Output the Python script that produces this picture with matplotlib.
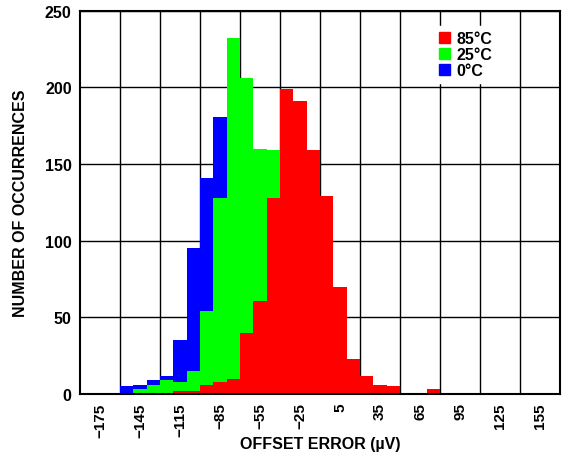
import numpy as np
import matplotlib.pyplot as plt
from matplotlib.patches import Patch

# bin left edges (uV), 10 uV wide
bin_left = np.arange(-160, 80, 10)

# counts per bin (hidden parts left at zero)
counts_0c = [5, 6, 9, 12, 35, 95, 141, 181, 0, 0, 0, 0,
             0, 0, 0, 0, 0, 0, 0, 0, 0, 0, 0, 0]
counts_25c = [0, 3, 6, 9, 8, 15, 54, 128, 232, 206, 160, 159,
              0, 0, 0, 0, 0, 0, 0, 0, 0, 0, 0, 0]
counts_85c = [0, 0, 0, 0, 2, 2, 6, 8, 10, 40, 61, 128,
              199, 191, 159, 129, 70, 23, 12, 6, 5, 0, 0, 3]

xticks = np.arange(-175, 156, 30)
xtick_labels = ['\u2212175', '\u2212145', '\u2212115', '\u221285', '\u221255',
                '\u221225', '5', '35', '65', '95', '125', '155']

plt.rcParams.update({
    "font.family": "Liberation Sans",
    "font.weight": "bold",
    "font.size": 11.5,
})

fig = plt.figure(figsize=(5.72, 4.6), dpi=100)
ax = fig.add_axes([0.14, 0.1413, 0.839, 0.833])

ax.bar(bin_left, counts_0c, width=10, align='edge', color='#0000FF', linewidth=0, zorder=2)
ax.bar(bin_left, counts_25c, width=10, align='edge', color='#00FF00', linewidth=0, zorder=3)
ax.bar(bin_left, counts_85c, width=10, align='edge', color='#FF0000', linewidth=0, zorder=4)

ax.set_xlim(-190, 170)
ax.set_ylim(0, 250)

# grid lines sit on cell edges, labels in the middle of the cells
ax.set_xticks(np.arange(-160, 141, 30), minor=True)
ax.set_xticks(xticks)
ax.set_xticklabels(xtick_labels, rotation=90, fontweight='bold', fontsize=11)
ax.set_yticks([0, 50, 100, 150, 200, 250])
ax.grid(True, which='minor', axis='x', color='black', linewidth=1.0, zorder=1)
ax.grid(True, which='major', axis='y', color='black', linewidth=1.0, zorder=1)
ax.grid(False, which='major', axis='x')
ax.set_axisbelow(True)
ax.tick_params(which='both', length=0, pad=6)

for s in ax.spines.values():
    s.set_linewidth(1.5)
    s.set_zorder(6)

fig.text(0.56, 1 - 445 / 460, 'OFFSET ERROR (\u00b5V)', ha='center', va='center',
         fontweight='bold')
ax.set_ylabel('NUMBER OF OCCURRENCES', fontweight='bold', labelpad=12)

handles = [Patch(color='#FF0000', label='85\u00b0C'),
           Patch(color='#00FF00', label='25\u00b0C'),
           Patch(color='#0000FF', label='0\u00b0C')]
leg = ax.legend(handles=handles, loc='upper left', bbox_to_anchor=(0.722, 0.98),
                frameon=True, fancybox=False, framealpha=1, edgecolor='white',
                handlelength=0.65, handleheight=0.65, handletextpad=0.4,
                labelspacing=0.05, borderpad=0.3, prop={'weight': 'bold', 'size': 11.5})
leg.set_zorder(7)

fig.savefig('out.png', dpi=100)
